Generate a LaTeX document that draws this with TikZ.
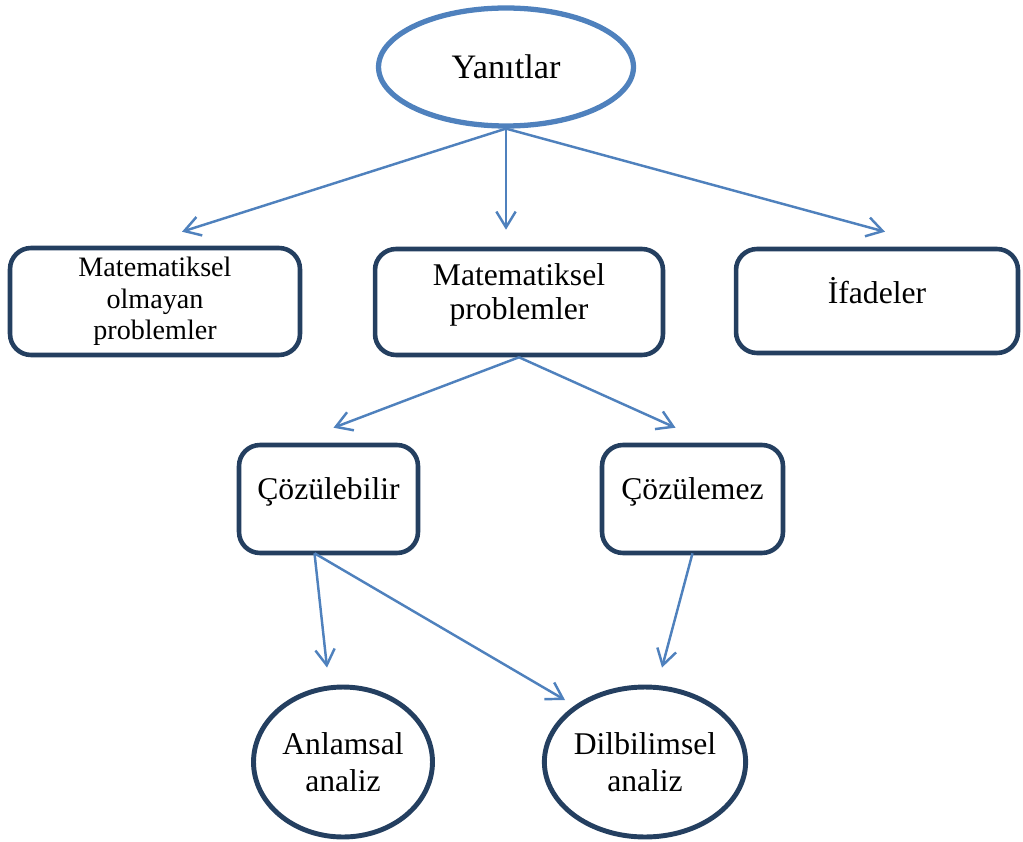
\documentclass[tikz,border=0pt]{standalone}
\usepackage{fontspec}
\setmainfont{Liberation Serif}
\usetikzlibrary{shapes.geometric,arrows.meta,calc}
\definecolor{lblue}{HTML}{4F81BD}
\definecolor{dblue}{HTML}{243F60}
\tikzset{
  topell/.style={ellipse,draw=lblue,line width=3pt,inner sep=0pt,
    minimum width=5.1cm,minimum height=2.36cm,
    font=\fontsize{19.5}{23}\selectfont},
  rbox/.style={rectangle,rounded corners=0.42cm,draw=dblue,line width=2.6pt,
    inner sep=0pt,align=center,font=\fontsize{18}{19}\selectfont},
  circ/.style={ellipse,draw=dblue,line width=2.8pt,inner sep=0pt,align=center,
    minimum width=3.58cm,minimum height=3.0cm,
    font=\fontsize{18}{21}\selectfont},
  arr/.style={draw=lblue,line width=1.4pt,-{Straight Barb[length=9pt,width=11pt]}}
}
\begin{document}
\begin{tikzpicture}[x=0.02cm,y=-0.02cm]
\useasboundingbox (0,0) rectangle (1023,841);
\node[topell] (top) at (506,67) {Yanıtlar};
\node[rbox,minimum width=5.8cm,minimum height=2.14cm,
  font=\fontsize{16}{18}\selectfont] (mo) at (155,301.5) {Matematiksel\\olmayan\\problemler};
\node[rbox,minimum width=5.76cm,minimum height=2.12cm,text depth=12pt] (mp) at (519,302) {Matematiksel\\problemler};
\node[rbox,minimum width=5.64cm,minimum height=2.08cm,text depth=12pt] (if) at (877,301) {İfadeler};
\node[rbox,minimum width=3.58cm,minimum height=2.16cm,text depth=12pt] (cb) at (328.5,499) {Çözülebilir};
\node[rbox,minimum width=3.62cm,minimum height=2.16cm,text depth=12pt] (cm) at (692.5,499) {Çözülemez};
\node[circ] (anl) at (343,762) {Anlamsal\\analiz};
\node[circ] (dil) at (645,762) {Dilbilimsel\\analiz};
\draw[arr] (top.south) -- ($(mo.north)+(27,-14)$);
\draw[arr] (top.south) -- ($(top.south |- mp.north)+(0,-17)$);
\draw[arr] (top.south) -- ($(if.north)+(8,-15)$);
\draw[arr] (mp.south) -- ($(cb.north)+(5,-15)$);
\draw[arr] (mp.south) -- ($(cm.north)+(-17,-15)$);
\draw[arr] ($(cb.south)+(-14,-2)$) -- ($(anl.north)+(-16,-17)$);
\draw[arr] ($(cb.south)+(-14,-2)$) -- ($(dil.center)+(-80,-62)$);
\draw[arr] ($(cm.south)+(0,-2)$) -- ($(dil.north)+(17,-17)$);
\end{tikzpicture}
\end{document}
